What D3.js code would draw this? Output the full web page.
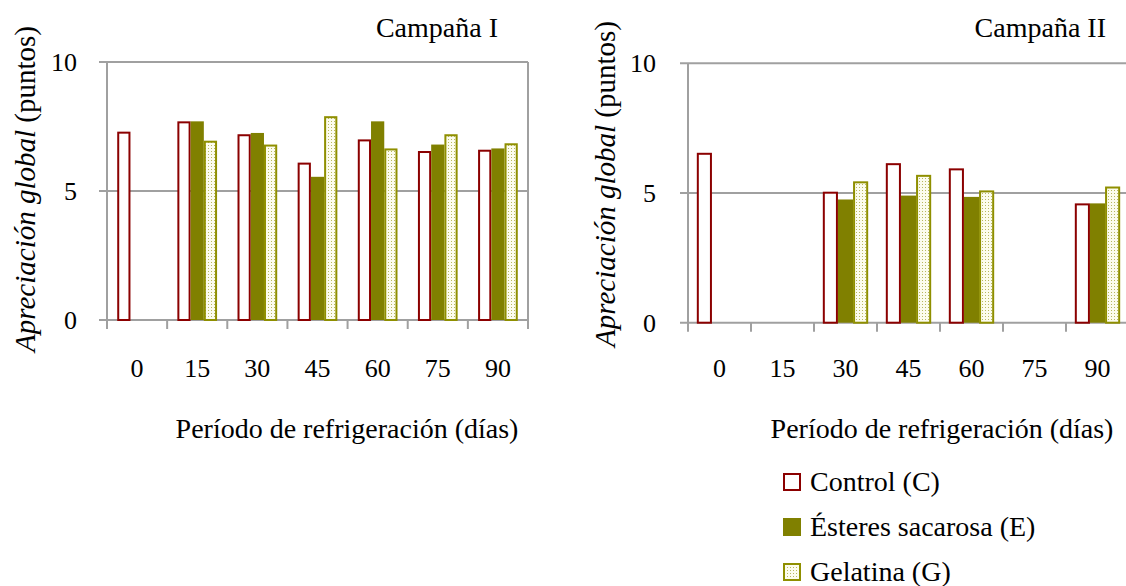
<!DOCTYPE html>
<html><head><meta charset="utf-8">
<script src="https://cdn.jsdelivr.net/npm/d3@7"></script>
<style>
body{margin:0;background:#fff;}
text{font-family:'Liberation Serif';}
</style></head>
<body><svg id="c" width="1126" height="586"></svg>
<script>
const categories = ["0","15","30","45","60","75","90"];
const seriesNames = ["Control (C)","Ésteres sacarosa (E)","Gelatina (G)"];
const yTicks = [0,5,10];
// Campaña I
const c1Control = [7.3, 7.7, 7.2, 6.1, 7.0, 6.55, 6.6];
const c1Esteres = [null, 7.7, 7.25, 5.55, 7.7, 6.8, 6.65];
const c1Gelatina = [null, 6.95, 6.8, 7.9, 6.65, 7.2, 6.85];
// Campaña II
const c2Control = [6.55, null, 5.05, 6.15, 5.95, null, 4.6];
const c2Esteres = [null, null, 4.75, 4.9, 4.85, null, 4.6];
const c2Gelatina = [null, null, 5.45, 5.7, 5.1, null, 5.25];

const FONT = "'Liberation Serif'";
const svg = d3.select("#c");
const defs = svg.append("defs");
const pat = defs.append("pattern").attr("id","dots").attr("patternUnits","userSpaceOnUse")
  .attr("width",3).attr("height",3);
pat.append("rect").attr("width",3).attr("height",3).attr("fill","#fcfcee");
pat.append("rect").attr("x",1).attr("y",1).attr("width",1).attr("height",1).attr("fill","#b8b860");

const styles = [
  {fill:"#ffffff", stroke:"#8b0000", sw:2},
  {fill:"#808000", stroke:"#808000", sw:0},
  {fill:"url(#dots)", stroke:"#8f8f00", sw:2}
];
const grid = "#a0a0a0";

function chart(o){
  const g = svg.append("g").attr("font-family",FONT);
  const x = d3.scaleBand().domain(categories).range([o.x0, o.x1]).paddingInner(0).paddingOuter(0);
  const y = d3.scaleLinear().domain([0,10]).range([o.y0, o.y1]);
  const x1 = d3.scaleBand().domain([0,1,2]).range([x.bandwidth()*o.pad, x.bandwidth()*(1-o.pad)]);
  g.selectAll(".gl").data(yTicks).join("line")
    .attr("x1",o.x0-8).attr("x2",o.gridEnd).attr("y1",d=>y(d)).attr("y2",d=>y(d))
    .attr("stroke",grid).attr("stroke-width",2);
  g.append("line").attr("x1",o.x0).attr("x2",o.x0).attr("y1",y(10)).attr("y2",y(0)+9)
    .attr("stroke",grid).attr("stroke-width",2);
  if(o.rightBorder){
    g.append("line").attr("x1",o.x1).attr("x2",o.x1).attr("y1",y(10)).attr("y2",y(0)+9)
      .attr("stroke",grid).attr("stroke-width",2);
  }
  g.selectAll(".ct").data(categories.slice(1)).join("line")
    .attr("x1",d=>x(d)).attr("x2",d=>x(d)).attr("y1",y(0)).attr("y2",y(0)+9)
    .attr("stroke",grid).attr("stroke-width",2);
  g.selectAll(".yl").data(yTicks).join("text")
    .attr("x",o.yLabX).attr("y",d=>y(d)+9).attr("text-anchor","end")
    .attr("font-family",FONT).attr("font-size",26).text(d=>d);
  o.series.forEach((vals,si)=>{
    const st = styles[si];
    g.selectAll(".b"+si).data(vals.map((v,i)=>({v,c:categories[i]})).filter(d=>d.v!=null)).join("rect")
      .attr("x",d=>x(d.c)+x1(si)+st.sw/2)
      .attr("y",d=>y(d.v)+st.sw/2)
      .attr("width",x1.bandwidth()-st.sw)
      .attr("height",d=>y(0)-y(d.v)-st.sw/2)
      .attr("fill",st.fill).attr("stroke",st.sw?st.stroke:"none").attr("stroke-width",st.sw);
  });
  g.selectAll(".xl").data(categories).join("text")
    .attr("x",d=>x(d)+x.bandwidth()/2).attr("y",o.xLabY).attr("text-anchor","middle")
    .attr("font-family",FONT).attr("font-size",26).text(d=>d);
  g.append("text").attr("x",o.xTitleX).attr("y",o.xTitleY).attr("text-anchor","middle")
    .attr("font-family",FONT).attr("font-size",28).text("Período de refrigeración (días)");
  const yt = g.append("text").attr("transform",`translate(${o.yTitleX},${o.yTitleY}) rotate(-90)`)
    .attr("text-anchor","middle").attr("font-family",FONT).attr("font-size",29);
  yt.append("tspan").attr("font-style","italic").text("Apreciación global");
  yt.append("tspan").text(" (puntos)");
  g.append("text").attr("x",o.tX).attr("y",37).attr("text-anchor","end")
    .attr("font-family",FONT).attr("font-size",28).text(o.title);
}

chart({x0:107,x1:528,y0:320,y1:62,pad:0.17,gridEnd:528,rightBorder:true,yLabX:77,xLabY:377,
  xTitleX:347,xTitleY:438,yTitleX:35,yTitleY:189,tX:498,title:"Campaña I",
  series:[c1Control,c1Esteres,c1Gelatina]});
chart({x0:688,x1:1129,y0:322.7,y1:63.3,pad:0.14,gridEnd:1126,rightBorder:false,yLabX:656,xLabY:377,
  xTitleX:942,xTitleY:438,yTitleX:615,yTitleY:184,tX:1106,title:"Campaña II",
  series:[c2Control,c2Esteres,c2Gelatina]});

const leg = svg.append("g").attr("transform","translate(783,473)").attr("font-family",FONT);
seriesNames.forEach((n,i)=>{
  const st = styles[i];
  const gy = i*45;
  leg.append("rect").attr("x",1).attr("y",gy+1).attr("width",16).attr("height",16)
    .attr("fill",st.fill).attr("stroke",st.stroke).attr("stroke-width",2);
  leg.append("text").attr("x",27).attr("y",gy+18).attr("font-family",FONT).attr("font-size",28).text(n);
});
</script></body></html>
